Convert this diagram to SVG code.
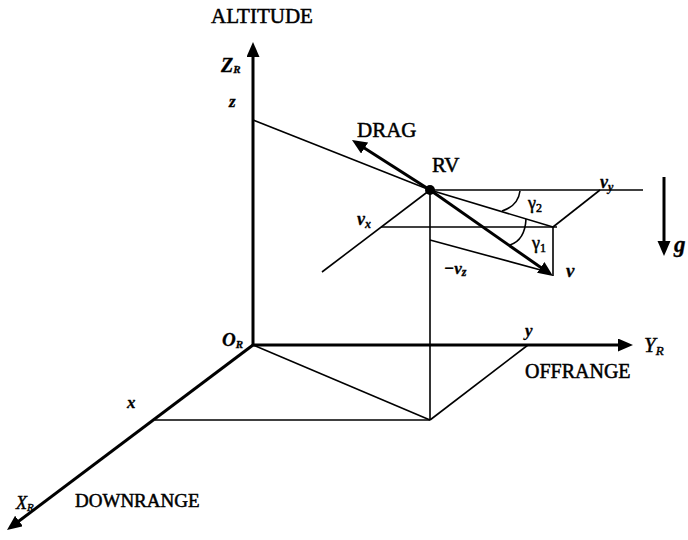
<svg xmlns="http://www.w3.org/2000/svg" width="688" height="540" viewBox="0 0 688 540">
<style>
.ax{stroke:#000;stroke-width:3;fill:none}
.th{stroke:#000;stroke-width:1.6;fill:none}
.t{font-family:"Liberation Serif","Times New Roman",serif;fill:#000;stroke:#000;stroke-width:0.5}
.bi{font-family:"Liberation Serif","Times New Roman",serif;font-weight:bold;font-style:italic;fill:#000;stroke:#000;stroke-width:0.3}
.it{font-family:"Liberation Serif","Times New Roman",serif;font-style:italic;fill:#000;stroke:#000;stroke-width:0.45}
</style>
<defs>
<marker id="ah" markerUnits="userSpaceOnUse" markerWidth="16" markerHeight="14" refX="5" refY="6.5" orient="auto">
<path d="M0,0 L15,6.5 L0,13 z" fill="#000"/>
</marker>
</defs>
<rect width="688" height="540" fill="#fff"/>
<g id="axes">
<line class="ax" x1="253" y1="345" x2="253" y2="52" marker-end="url(#ah)"/>
<line class="ax" x1="253" y1="345" x2="623" y2="345" marker-end="url(#ah)"/>
<line class="ax" x1="253" y1="345" x2="15" y2="524" marker-end="url(#ah)"/>
</g>
<g id="connectors">
<line class="th" x1="253" y1="120" x2="430" y2="190"/>
<line class="th" x1="430" y1="190" x2="643" y2="190"/>
<line class="th" x1="430" y1="190" x2="430" y2="420"/>
<line class="th" x1="430" y1="190" x2="322" y2="272"/>
<line class="th" x1="381" y1="227" x2="557" y2="227"/>
<line class="th" x1="430" y1="190" x2="553" y2="227"/>
<line class="th" x1="600" y1="190" x2="553" y2="227"/>
<line class="th" x1="553" y1="227" x2="553" y2="276"/>
<line class="th" x1="430" y1="240" x2="548" y2="272"/>
<line class="th" x1="253" y1="345" x2="430" y2="420"/>
<line class="th" x1="155" y1="420" x2="430" y2="420"/>
<line class="th" x1="430" y1="420" x2="528" y2="345"/>
<path class="th" d="M520,191 Q518,206 502,211"/>
<path class="th" d="M526,219 Q525,240 510,245"/>
<line class="ax" x1="430" y1="190" x2="360.4" y2="145.4" marker-end="url(#ah)"/>
<line class="ax" x1="430" y1="190" x2="544.8" y2="270.3" marker-end="url(#ah)"/>
<line class="ax" x1="664" y1="177" x2="664" y2="246" marker-end="url(#ah)"/>
</g>
<g id="rv">
<circle cx="430" cy="190" r="5" fill="#000"/>
<text class="t" x="432" y="172" font-size="21">RV</text>
</g>
<g id="labels">
<text class="t" x="211" y="23" font-size="21">ALTITUDE</text>
<text class="bi" x="221" y="72" font-size="20">Z<tspan font-size="11" dy="1">R</tspan></text>
<text class="bi" x="229" y="107" font-size="17">z</text>
<text class="t" x="357" y="137" font-size="21">DRAG</text>
<text class="bi" x="600" y="188" font-size="18">v<tspan font-size="12" dy="3">y</tspan></text>
<text class="bi" x="357" y="225" font-size="18">v<tspan font-size="12" dy="3">x</tspan></text>
<text class="t" x="528" y="209" font-size="18" stroke-width="0.3">γ<tspan font-size="12" dy="3">2</tspan></text>
<text class="t" x="532" y="249" font-size="18" stroke-width="0.3">γ<tspan font-size="12" dy="3">1</tspan></text>
<text class="bi" x="444" y="274" font-size="17">−v<tspan font-size="12" dy="2">z</tspan></text>
<text class="bi" x="566" y="277" font-size="19">v</text>
<text class="bi" x="674" y="252" font-size="23">g</text>
<text class="bi" x="222" y="346" font-size="19">O<tspan font-size="11" dy="2">R</tspan></text>
<text class="bi" x="525" y="336" font-size="17">y</text>
<text class="it" x="644" y="352" font-size="21">Y<tspan font-size="13" dy="3">R</tspan></text>
<text class="t" x="525" y="378" font-size="20">OFFRANGE</text>
<text class="bi" x="127" y="408" font-size="17">x</text>
<text class="it" x="16" y="509" font-size="18">X<tspan font-size="11" dy="2">R</tspan></text>
<text class="t" x="75" y="507" font-size="19">DOWNRANGE</text>
</g>
</svg>
